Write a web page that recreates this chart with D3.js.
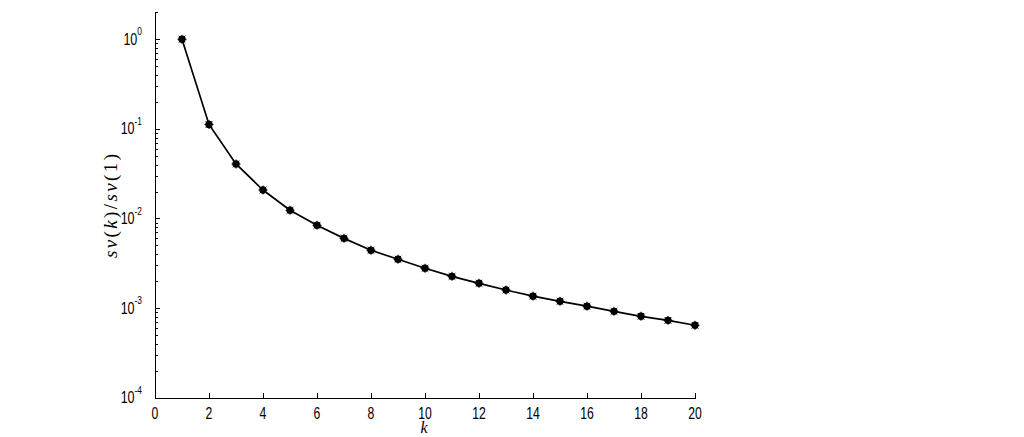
<!DOCTYPE html>
<html>
<head>
<meta charset="utf-8">
<script src="https://cdn.jsdelivr.net/npm/d3@7"></script>
<style>
  body { margin: 0; background: #fff; }
  .tick-label { font-family: "Liberation Sans", Arial, sans-serif; fill: #000; }
  .math { font-family: "Liberation Serif", "Times New Roman", serif; fill: #000; }
</style>
</head>
<body>
<script>
var width = 1024;
var height = 437;

// data
var ks = [1, 2, 3, 4, 5, 6, 7, 8, 9, 10, 11, 12, 13, 14, 15, 16, 17, 18, 19, 20];
var ratios = [1, 0.112, 0.0406, 0.0208, 0.01235, 0.0084, 0.0060, 0.00442, 0.00351, 0.00278,
              0.00226, 0.00189, 0.00159, 0.00136, 0.00119, 0.00105, 0.00092, 0.00081, 0.00073, 0.000643];
var xTicks = [0, 2, 4, 6, 8, 10, 12, 14, 16, 18, 20];
var yExponents = [0, -1, -2, -3, -4];

var svg = d3.select("body")
  .append("svg")
  .attr("width", width)
  .attr("height", height)
  .style("background-color", "#fff");

var x = d3.scaleLinear().domain([0, 20]).range([155, 695]);
var y = d3.scaleLog().domain([1e-4, 2]).range([397.7, 12.3]);

// minor y ticks 2..9 per decade
var minor = [];
[-4, -3, -2, -1, 0].forEach(function(e) {
  for (var m = 2; m <= 9; m++) {
    var v = m * Math.pow(10, e);
    if (v <= 2) minor.push(v);
  }
});

svg.append("g")
  .attr("transform", "translate(0," + y(1e-4) + ")")
  .call(d3.axisBottom(x).tickValues(xTicks).tickSize(-5).tickSizeOuter(0).tickFormat(""));

svg.append("g")
  .attr("transform", "translate(" + x(0) + ",0)")
  .call(d3.axisLeft(y).tickValues(yExponents.map(function(e) { return Math.pow(10, e); }))
    .tickSize(-5).tickSizeOuter(0).tickFormat(""));

svg.append("g")
  .attr("transform", "translate(" + x(0) + ",0)")
  .call(d3.axisLeft(y).tickValues(minor).tickSize(-3).tickSizeOuter(0).tickFormat(""))
  .select(".domain").remove();

svg.selectAll(".domain, .tick line")
  .attr("stroke", "#000")
  .attr("stroke-width", 1)
  .attr("shape-rendering", "crispEdges");

// x tick labels (narrow, like the original's font)
svg.append("g").selectAll("text")
  .data(xTicks)
  .enter().append("text")
  .attr("class", "tick-label")
  .attr("transform", function(d) { return "translate(" + x(d) + ",419) scale(0.74,1)"; })
  .attr("text-anchor", "middle")
  .style("font-size", "16.5px")
  .text(function(d) { return d; });

// y tick labels 10^e
var yl = svg.append("g").selectAll("text")
  .data(yExponents)
  .enter().append("text")
  .attr("class", "tick-label")
  .attr("transform", function(d) { return "translate(142," + (y(Math.pow(10, d)) + 5.5) + ") scale(0.76,1)"; })
  .attr("text-anchor", "end")
  .style("font-size", "16.5px");
yl.append("tspan").text("10");
yl.append("tspan")
  .attr("dy", -9.5)
  .style("font-size", "11px")
  .text(function(d) { return d; });

// line and markers
var pts = ks.map(function(k, i) { return [k, ratios[i]]; });

svg.append("path")
  .datum(pts)
  .attr("fill", "none")
  .attr("stroke", "#000")
  .attr("stroke-width", 1.7)
  .attr("d", d3.line()
    .x(function(d) { return x(d[0]); })
    .y(function(d) { return y(d[1]); }));

var marks = svg.append("g").selectAll("g")
  .data(pts)
  .enter().append("g")
  .attr("transform", function(d) { return "translate(" + x(d[0]) + "," + y(d[1]) + ")"; });

marks.append("circle")
  .attr("r", 3.7)
  .attr("fill", "#000");

marks.append("path")
  .attr("d", "M-4.5,0H4.5M0,-4.5V4.5M-3.3,-3.3L3.3,3.3M-3.3,3.3L3.3,-3.3")
  .attr("stroke", "#000")
  .attr("stroke-width", 1);

// axis titles
svg.append("text")
  .attr("class", "math")
  .attr("x", 424)
  .attr("y", 433)
  .attr("text-anchor", "middle")
  .style("font-size", "16px")
  .style("font-style", "italic")
  .text("k");

var ylab = svg.append("text")
  .attr("class", "math")
  .attr("transform", "translate(117,206) rotate(-90)")
  .attr("text-anchor", "middle")
  .attr("textLength", 104)
  .attr("lengthAdjust", "spacing")
  .style("font-size", "19px");
[["sv", true], ["(", false], ["k", true], [")/", false], ["sv", true], ["(1)", false]].forEach(function(p) {
  ylab.append("tspan")
    .style("font-style", p[1] ? "italic" : "normal")
    .text(p[0]);
});
</script>
</body>
</html>
